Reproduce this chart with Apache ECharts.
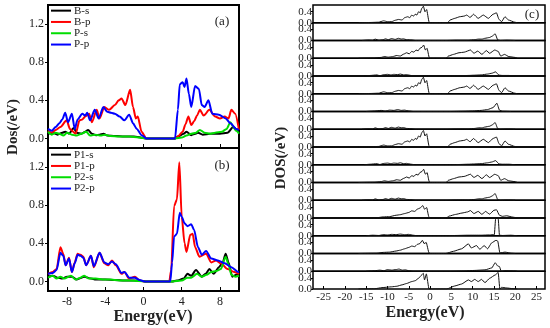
<!DOCTYPE html>
<html><head><meta charset="utf-8">
<script src="https://cdn.jsdelivr.net/npm/echarts@6/dist/echarts.min.js"></script>
<style>html,body{margin:0;padding:0;background:#fff}#c{width:550px;height:328px}</style>
</head><body><div id="c"></div><script>
// ---------- Panel (a) ----------
const aBs = [[-10,0.05],[-9.5,0.06],[-9,0.04],[-8.5,0.06],[-8.2,0.07],[-7.8,0.05],[-7.3,0.11],[-7,0.06],[-6.5,0.05],[-6.1,0.07],[-5.8,0.09],[-5.4,0.05],[-5,0.035],[-4.6,0.04],[-4.2,0.05],[-3.8,0.03],[-3,0.025],[-2,0.02],[-1,0.02],[-0.3,0.01],[0.3,0],[3.3,0],[3.6,0.02],[4.2,0.05],[4.5,0.07],[5,0.035],[5.4,0.05],[5.7,0.06],[6.2,0.04],[7,0.05],[8,0.05],[8.8,0.06],[9.4,0.12],[9.7,0.1],[10,0.08]];
const aBp = [[-10,0.08],[-9.6,0.06],[-9.2,0.09],[-8.7,0.12],[-8.05,0.19],[-7.7,0.1],[-7.1,0.05],[-6.7,0.19],[-6.4,0.2],[-6.1,0.23],[-5.7,0.26],[-5.4,0.17],[-4.9,0.3],[-4.6,0.21],[-4.1,0.33],[-3.6,0.3],[-3.0,0.35],[-2.6,0.4],[-2.3,0.42],[-1.9,0.35],[-1.4,0.51],[-1.1,0.33],[-0.8,0.21],[-0.6,0.23],[-0.2,0.07],[0.3,0],[3.3,0],[3.6,0.02],[4.1,0.07],[4.4,0.15],[4.7,0.23],[5.0,0.14],[5.3,0.18],[5.6,0.24],[5.9,0.3],[6.3,0.24],[6.9,0.3],[7.5,0.23],[8.0,0.21],[8.5,0.23],[8.9,0.21],[9.2,0.3],[9.6,0.26],[10,0.09]];
const aPs = [[-10,0.07],[-9.6,0.04],[-9.2,0.06],[-8.8,0.05],[-8.4,0.03],[-8,0.06],[-7.5,0.04],[-7,0.03],[-6.5,0.05],[-6,0.07],[-5.6,0.03],[-5,0.04],[-4.5,0.03],[-4,0.04],[-3.5,0.025],[-2.5,0.02],[-1.5,0.02],[-0.5,0.01],[0.3,0],[3.3,0],[4,0.01],[4.5,0.03],[5,0.05],[5.5,0.06],[5.9,0.09],[6.4,0.06],[7,0.05],[7.5,0.06],[8.2,0.07],[8.7,0.1],[9.1,0.17],[9.4,0.12],[9.7,0.08],[10,0.05]];
const aPp = [[-10,0.1],[-9.6,0.08],[-9.2,0.12],[-8.8,0.16],[-8.5,0.2],[-8.2,0.27],[-7.9,0.17],[-7.5,0.26],[-7.2,0.1],[-6.9,0.2],[-6.4,0.26],[-6.1,0.24],[-5.9,0.27],[-5.6,0.19],[-5.1,0.3],[-4.7,0.21],[-4.2,0.33],[-3.8,0.28],[-3.4,0.27],[-3.0,0.26],[-2.5,0.23],[-2.0,0.19],[-1.5,0.25],[-1.1,0.16],[-0.7,0.1],[-0.2,0.035],[0.3,0],[3.3,0],[3.6,0.3],[3.8,0.57],[4.1,0.59],[4.3,0.54],[4.5,0.63],[4.75,0.47],[5.0,0.33],[5.4,0.55],[5.8,0.52],[6.1,0.35],[6.4,0.33],[6.8,0.4],[7.2,0.26],[7.9,0.25],[8.6,0.21],[9.1,0.16],[9.7,0.1],[10,0.09]];
// ---------- Panel (b) ----------
const bP1s = [[-10,0.05],[-9.5,0.06],[-9,0.04],[-8.5,0.03],[-8,0.05],[-7.5,0.05],[-7,0.02],[-6.5,0.04],[-6.2,0.05],[-5.5,0.03],[-5,0.02],[-4,0.02],[-3,0.015],[-2,0.01],[-1,0.01],[0,0.005],[0.3,0],[3,0],[3.5,0.01],[4.2,0.03],[4.6,0.08],[5,0.06],[5.5,0.12],[6.1,0.05],[6.5,0.08],[6.9,0.13],[7.35,0.08],[7.9,0.15],[8.3,0.2],[8.6,0.29],[8.9,0.2],[9.3,0.05],[9.7,0.07],[10,0.08]];
const bP1p = [[-10,0.08],[-9.5,0.1],[-9.1,0.13],[-8.7,0.36],[-8.4,0.29],[-8.15,0.17],[-7.8,0.25],[-7.5,0.1],[-7.2,0.2],[-6.9,0.29],[-6.6,0.28],[-6.3,0.26],[-6.0,0.17],[-5.5,0.27],[-5.2,0.15],[-4.6,0.3],[-4.1,0.19],[-3.7,0.17],[-3.3,0.22],[-2.9,0.17],[-2.3,0.08],[-2.0,0.1],[-1.5,0.03],[-0.9,0.05],[-0.4,0.01],[0.1,0],[2.7,0],[2.9,0.12],[3.2,0.79],[3.5,0.86],[3.75,1.25],[4.0,0.68],[4.3,0.4],[4.5,0.31],[4.9,0.49],[5.15,0.5],[5.4,0.36],[5.85,0.26],[6.55,0.29],[7.1,0.2],[7.6,0.22],[8.1,0.19],[8.8,0.13],[9.5,0.1],[10,0.08]];
const bP2s = [[-10,0.04],[-9.5,0.06],[-9.1,0.03],[-8.7,0.05],[-8.3,0.03],[-7.6,0.06],[-7.1,0.02],[-6.6,0.04],[-6.2,0.06],[-5.7,0.03],[-5,0.03],[-4.3,0.02],[-3.5,0.02],[-2.5,0.01],[-1.5,0.01],[-0.5,0.005],[0.3,0],[3,0],[4,0.01],[4.6,0.04],[5,0.04],[5.6,0.08],[6.1,0.05],[6.6,0.07],[7.1,0.1],[7.6,0.11],[8.1,0.13],[8.6,0.26],[8.9,0.18],[9.2,0.07],[9.6,0.05],[10,0.06]];
const bP2p = [[-10,0.08],[-9.5,0.09],[-9.1,0.12],[-8.7,0.3],[-8.4,0.27],[-8.15,0.17],[-7.8,0.24],[-7.5,0.1],[-7.2,0.19],[-6.9,0.28],[-6.6,0.27],[-6.3,0.25],[-6.0,0.17],[-5.5,0.27],[-5.2,0.16],[-4.6,0.3],[-4.1,0.2],[-3.7,0.18],[-3.3,0.21],[-2.9,0.18],[-2.3,0.09],[-2.0,0.1],[-1.5,0.04],[-0.9,0.04],[-0.4,0.015],[0.1,0],[2.8,0],[3.0,0.2],[3.2,0.47],[3.5,0.5],[3.8,0.72],[4.0,0.68],[4.3,0.61],[4.6,0.58],[5.0,0.6],[5.3,0.54],[5.7,0.36],[6.1,0.28],[6.55,0.32],[7.1,0.24],[7.8,0.22],[8.5,0.19],[9.2,0.15],[9.9,0.1],[10,0.1]];
// ---------- Panel (c) row profiles ----------
const cBigA = [[-16.8,0],[-14,0.01],[-12.1,0.02],[-10.9,0.07],[-10,0.04],[-9,0.04],[-8.2,0.09],[-7.4,0.12],[-6.6,0.1],[-5.9,0.19],[-5.2,0.22],[-4.8,0.18],[-4.3,0.28],[-3.9,0.24],[-3.5,0.31],[-3.1,0.28],[-2.7,0.4],[-2.3,0.36],[-1.96,0.52],[-1.56,0.6],[-1.2,0.4],[-0.8,0.48],[-0.25,0.04],[0,0],[4.1,0],[4.7,0.1],[5.8,0.16],[7.0,0.22],[8.0,0.24],[8.6,0.28],[9.4,0.19],[10.2,0.31],[11.3,0.16],[12.5,0.28],[13.7,0.16],[14.8,0.31],[15.6,0.36],[16.2,0.12],[16.8,0.04],[17.6,0.22],[18.4,0.1],[19.9,0.02],[20.5,0]];
const cBigB = [[-16.8,0],[-13,0.01],[-11.5,0.03],[-10.8,0.06],[-9.8,0.04],[-8.8,0.06],[-7.8,0.1],[-7,0.08],[-6.2,0.15],[-5.5,0.2],[-4.9,0.16],[-4.3,0.25],[-3.8,0.22],[-3.3,0.3],[-2.8,0.27],[-2.4,0.36],[-1.9,0.4],[-1.5,0.48],[-1.1,0.3],[-0.7,0.36],[-0.2,0.03],[0,0],[3.8,0],[4.3,0.08],[5.5,0.14],[6.8,0.2],[8,0.22],[9.5,0.3],[10.3,0.18],[11.2,0.26],[12.2,0.14],[13.2,0.28],[14,0.18],[15.2,0.3],[16,0.25],[16.6,0.08],[17.5,0.14],[18.5,0.06],[20,0.03],[20.5,0]];
const cBig12 = [[-16.8,0],[-12.5,0.01],[-11,0.04],[-9.5,0.05],[-8,0.1],[-7,0.12],[-6,0.16],[-5,0.2],[-4.3,0.26],[-3.6,0.24],[-3,0.32],[-2.4,0.36],[-1.7,0.45],[-1.3,0.32],[-0.8,0.38],[-0.3,0.05],[0,0],[3.8,0],[4.5,0.07],[6,0.13],[7.5,0.18],[8.8,0.22],[9.5,0.27],[10.3,0.16],[11.3,0.24],[12.2,0.13],[13,0.24],[14,0.14],[15,0.28],[15.6,0.3],[16.3,0.1],[17,0.06],[18,0.08],[19.5,0.03],[20.5,0]];
const cBig14 = [[-16.8,0],[-12.5,0.01],[-11,0.04],[-9.5,0.05],[-8,0.09],[-7,0.12],[-6,0.17],[-5,0.22],[-4.3,0.27],[-3.6,0.25],[-3,0.33],[-2.4,0.36],[-1.8,0.48],[-1.4,0.36],[-0.9,0.4],[-0.25,0.02],[0,0],[3.7,0],[5.5,0.08],[7.4,0.17],[9.0,0.35],[9.7,0.2],[10.9,0.29],[11.7,0.15],[12.7,0.29],[13.5,0.17],[14.5,0.39],[15.5,0.48],[15.9,0.45],[16.4,0.02],[17.6,0.05],[19.1,0.01],[20,0]];
const cBig16 = [[-16.8,0],[-13,0.01],[-11.3,0.05],[-9,0.08],[-7.8,0.1],[-6.6,0.15],[-5.5,0.2],[-4.3,0.27],[-3.5,0.3],[-2.7,0.39],[-1.96,0.51],[-1.6,0.57],[-1.3,0.33],[-0.87,0.55],[-0.25,0],[3.9,0],[5.8,0.11],[7.4,0.18],[9.0,0.33],[9.7,0.27],[10.5,0.35],[11.3,0.27],[12.1,0.35],[12.9,0.23],[14,0.39],[15.3,0.51],[16.0,0.6],[16.4,0.0],[16.8,0.06],[17.9,0.04],[19.5,0.01],[20.5,0]];
const cSmallA = [[-16,0],[-14.4,0.02],[-13.5,0.01],[-12.9,0.05],[-12,0.01],[-11,0.03],[-10.5,0.06],[-9.8,0.03],[-9,0.07],[-8.2,0.04],[-7.4,0.08],[-6.8,0.05],[-6.3,0.06],[-5.5,0.03],[-4.3,0.02],[-3.5,0],[4,0],[6,0.01],[9,0.01],[10.5,0.03],[11.3,0.05],[12.2,0.05],[12.9,0.08],[14,0.11],[14.5,0.15],[15.3,0.24],[15.9,0.02],[16.5,0],[18,0.01],[20,0]];
const cSmallB = [[-15.5,0],[-14,0.02],[-12.5,0.04],[-11.8,0.01],[-10.8,0.05],[-10,0.06],[-9.2,0.04],[-8.5,0.06],[-7.6,0.05],[-7,0.07],[-6.2,0.04],[-5.5,0.05],[-4.5,0.02],[-3.5,0],[5,0],[7,0.01],[9,0.02],[10.5,0.03],[12,0.04],[13.5,0.07],[14.5,0.1],[15.4,0.15],[16.2,0.03],[17,0.02],[18.5,0.02],[20,0]];
const cSmallC = [[-15,0],[-13,0.02],[-11.5,0.04],[-10.5,0.02],[-9.5,0.05],[-8.5,0.04],[-7.5,0.07],[-6.8,0.04],[-6,0.05],[-5,0.02],[-4,0],[5,0],[8,0.01],[10,0.02],[12,0.04],[13.5,0.07],[14.8,0.14],[15.7,0.3],[16.3,0.05],[17,0.01],[19,0]];
const cSpike13 = [[-15,0],[-13.5,0.02],[-12,0.01],[-11,0.04],[-10,0.03],[-9,0.05],[-8,0.04],[-7,0.06],[-6,0.04],[-5,0.05],[-4,0.02],[-3,0],[4,0],[6,0.01],[9,0.02],[12,0.02],[14,0.03],[15.1,0.04],[15.4,0.62],[15.7,0.64],[16.0,0.63],[16.3,0.02],[17,0.01],[19,0.02],[20.5,0]];
const cSmall15 = [[-15,0],[-13,0.02],[-11.8,0.04],[-10.8,0.02],[-10,0.06],[-9,0.04],[-8,0.06],[-7.3,0.08],[-6.5,0.04],[-5.8,0.05],[-5,0.02],[-4,0],[5,0],[8,0.01],[10.5,0.03],[12.9,0.05],[14.5,0.12],[15.3,0.31],[15.9,0.19],[16.3,0.17],[16.7,0],[17.6,0.02],[20,0.01],[20.5,0]];
const cRows = [cBigA, cSmallA, cBigB, cSmallB, cBigA, cSmallC, cSmallA, cBigA, cSmallB, cBigB, cSmallA, cBig12, cSpike13, cBig14, cSmall15, cBig16];

const abXTicks = [-8,-4,0,4,8];
const abYTicks = [0,0.4,0.8,1.2];
const cXTicks = [-25,-20,-15,-10,-5,0,5,10,15,20,25];
const cYTicks = [0,0.4];
const namesA = ['B-s','B-p','P-s','P-p'];
const namesB = ['P1-s','P1-p','P2-s','P2-p'];
const colors = ['#000000','#ff0000','#00dd00','#0000ff'];

const FONT = '"Liberation Serif","Times New Roman",serif';
const grids = [], xAxes = [], yAxes = [], series = [];

function abPanel(idx, top, showX, names, datas) {
  grids.push({left:48, top:top, width:191, height:143, show:true, borderColor:'#000', borderWidth:2});
  xAxes.push({gridIndex:idx, type:'value', min:-10, max:10, position:'bottom',
    axisLine:{show:false, onZero:false},
    axisTick:{show:true, inside:true, length:4, customValues:abXTicks, lineStyle:{color:'#000'}},
    axisLabel:{show:showX, customValues:abXTicks, fontFamily:FONT, fontSize:12, color:'#222', margin:5},
    splitLine:{show:false}});
  yAxes.push({gridIndex:idx, type:'value', min:-0.1, max:1.4, position:'left',
    axisLine:{show:false, onZero:false},
    axisTick:{show:true, inside:false, length:3, customValues:abYTicks, lineStyle:{color:'#000'}},
    axisLabel:{customValues:abYTicks, formatter:v=>v.toFixed(1), fontFamily:FONT, fontSize:12, color:'#222', margin:4},
    splitLine:{show:false}});
  datas.forEach((d,k)=>{
    series.push({type:'line', name:names[k], xAxisIndex:idx, yAxisIndex:idx, data:d,
      symbol:'none', showSymbol:false, smooth:0.25, smoothMonotone:'x', z:2+k,
      lineStyle:{width:2, color:colors[k]}, itemStyle:{color:colors[k]}});
  });
}
abPanel(0, 5, false, namesA, [aBs,aBp,aPs,aPp]);
abPanel(1, 148, true, namesB, [bP1s,bP1p,bP2s,bP2p]);

const rowH = 17.75;
cRows.forEach((d,i)=>{
  const idx = 2+i;
  const last = i===cRows.length-1;
  grids.push({left:313, top:5+i*rowH, width:232, height:rowH, show:true, borderColor:'#000', borderWidth:1.5});
  xAxes.push({gridIndex:idx, type:'value', min:-27.5, max:27, position:'bottom',
    axisLine:{show:false, onZero:false},
    axisTick:{show:last, inside:true, length:3, customValues:cXTicks, lineStyle:{color:'#000'}},
    axisLabel:{show:last, customValues:cXTicks, fontFamily:FONT, fontSize:11, color:'#222', margin:3},
    splitLine:{show:false}});
  yAxes.push({gridIndex:idx, type:'value', min:0, max:0.645, position:'left',
    axisLine:{show:false, onZero:false},
    axisTick:{show:true, inside:false, length:2, customValues:cYTicks, lineStyle:{color:'#000'}},
    axisLabel:{customValues:cYTicks, formatter:v=>v.toFixed(1), fontFamily:FONT, fontSize:11, color:'#222', margin:1},
    splitLine:{show:false}});
  series.push({type:'line', name:'row'+(i+1), xAxisIndex:idx, yAxisIndex:idx, data:d,
    symbol:'none', showSymbol:false, smooth:0.15, smoothMonotone:'x',
    lineStyle:{width:1, color:'#111'}});
});

const legendBase = {orient:'vertical', icon:'rect', itemWidth:20, itemHeight:2, itemGap:0, padding:0,
  textStyle:{fontFamily:FONT, fontSize:11, lineHeight:11.3, color:'#222', padding:[0,0,0,-2]}};

const txt = (t,x,y,size,bold,rot)=>({type:'text', x:x, y:y, rotation:rot||0,
  style:{text:t, font:(bold?'bold ':'')+size+'px '+FONT, fill:'#222', textAlign:'center', textVerticalAlign:'middle'}});

const chart = echarts.init(document.getElementById('c'));
chart.setOption({
  animation:false,
  backgroundColor:'#fff',
  grid:grids, xAxis:xAxes, yAxis:yAxes, series:series,
  legend:[Object.assign({left:51, top:5, data:namesA}, legendBase),
          Object.assign({left:51, top:149, data:namesB}, legendBase)],
  graphic:[
    txt('(a)',222,22,13,false),
    txt('(b)',222,166,13,false),
    txt('(c)',532,15,13,false),
    txt('Dos(/eV)',13,127,15,true,Math.PI/2),
    txt('DOS(/eV)',281,158,15,true,Math.PI/2),
    txt('Energy(eV)',153,317,16,true),
    txt('Energy(eV)',425,313,16,true)
  ]
});
</script></body></html>
